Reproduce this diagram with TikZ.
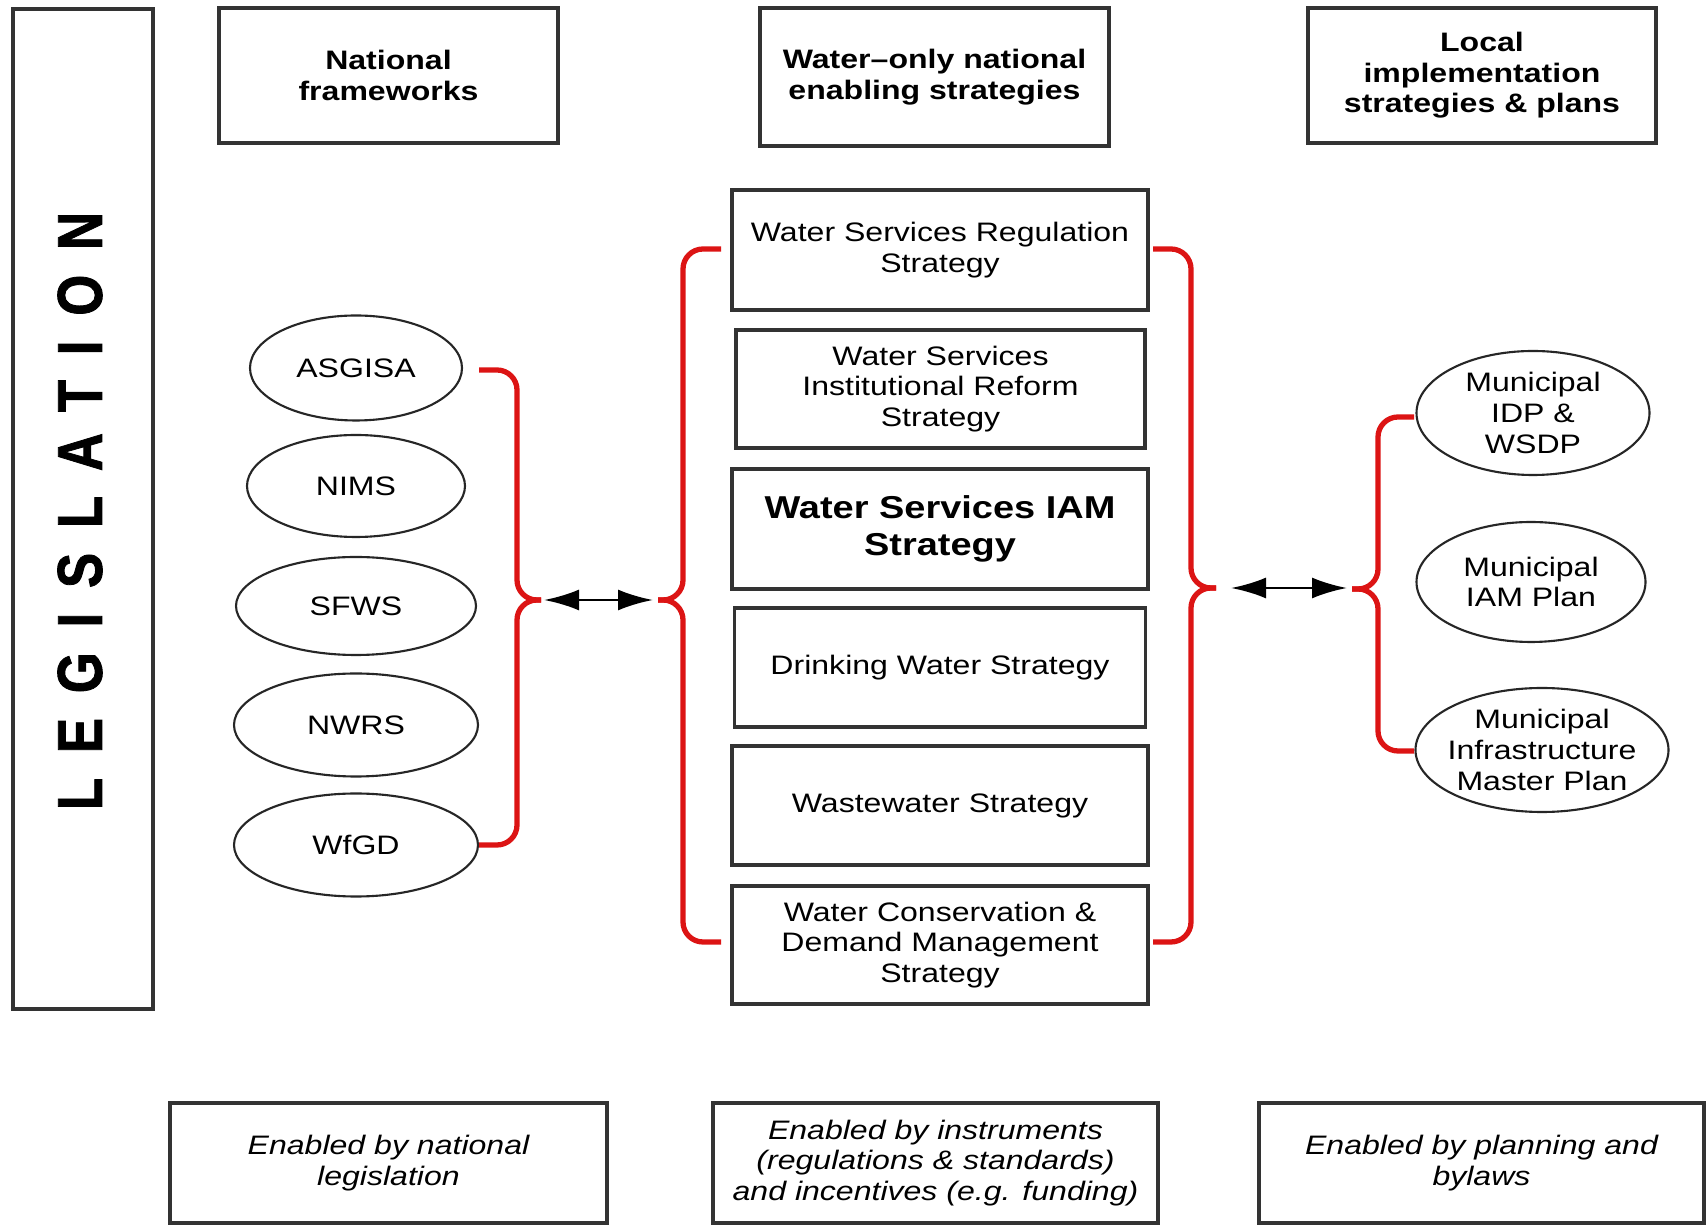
\documentclass[tikz,border=0pt]{standalone}
\usepackage{graphicx}
\usepackage{fontspec}
\setmainfont{Liberation Sans}[FakeStretch=1.2]
\newfontfamily\legfont{Liberation Sans}[LetterSpace=47, FakeBold=1.5]
\usetikzlibrary{shapes.geometric,arrows.meta}
\definecolor{bracered}{RGB}{220,20,20}

\begin{document}
\begin{tikzpicture}[
		plainbox/.style={draw=black!80, line width=0.9pt, rectangle, inner sep=0pt, align=center, font=\fontsize{7.6}{8.7}\selectfont},
		headbox/.style={plainbox, font=\fontsize{7.6}{8.7}\selectfont\bfseries},
		notebox/.style={plainbox, font=\fontsize{7.6}{8.7}\selectfont\itshape},
		oval/.style={draw=black!85, line width=0.6pt, ellipse, inner sep=0pt, align=center, font=\fontsize{7.6}{8.7}\selectfont},
		redbrace/.style={draw=bracered, line width=1.5pt, rounded corners=0.2cm},
		dblarrow/.style={line width=0.8pt, {Latex[length=3.5mm,width=2.1mm]}-{Latex[length=3.5mm,width=2.1mm]}}
	]
		\useasboundingbox [fill=white] (0,0) rectangle (17.06,-12.25);
		
		\node [plainbox, minimum width=1.40cm, minimum height=10.00cm] (leg) at (0.83,-5.09) {};
		\node [rotate=90, font=\legfont\bfseries\fontsize{15}{15}\selectfont] (legtext) at (0.80,-5.11) {\scalebox{1}[1.2]{LEGISLATION}};
		
		\node [headbox, minimum width=3.39cm, minimum height=1.35cm] (natfw) at (3.885,-0.755) {National\\frameworks};
		\node [headbox, minimum width=3.49cm, minimum height=1.38cm] (wateronly) at (9.345,-0.77) {Water–only national\\enabling strategies};
		\node [headbox, minimum width=3.48cm, minimum height=1.35cm] (localimp) at (14.82,-0.755) {Local\\implementation\\strategies \& plans};
		
		\node [oval, minimum width=2.12cm, minimum height=1.05cm] (asgisa) at (3.56,-3.68) {ASGISA};
		\node [oval, minimum width=2.18cm, minimum height=1.02cm] (nims) at (3.56,-4.86) {NIMS};
		\node [oval, minimum width=2.40cm, minimum height=0.98cm] (sfws) at (3.56,-6.06) {SFWS};
		\node [oval, minimum width=2.44cm, minimum height=1.03cm] (nwrs) at (3.56,-7.25) {NWRS};
		\node [oval, minimum width=2.44cm, minimum height=1.03cm] (wfgd) at (3.56,-8.45) {WfGD};
		
		\node [plainbox, minimum width=4.16cm, minimum height=1.20cm] (wsrs) at (9.40,-2.50) {Water Services Regulation\\Strategy};
		\node [plainbox, minimum width=4.09cm, minimum height=1.18cm] (wsirs) at (9.405,-3.89) {Water Services\\Institutional Reform\\Strategy};
		\node [plainbox, minimum width=4.16cm, minimum height=1.20cm, font=\fontsize{9}{10.5}\selectfont\bfseries] (wsiam) at (9.40,-5.29) {Water Services IAM\\Strategy};
		\node [plainbox, minimum width=4.11cm, minimum height=1.19cm] (dws) at (9.40,-6.675) {Drinking Water Strategy};
		\node [plainbox, minimum width=4.16cm, minimum height=1.19cm] (wws) at (9.40,-8.055) {Wastewater Strategy};
		\node [plainbox, minimum width=4.16cm, minimum height=1.18cm] (wcdm) at (9.40,-9.45) {Water Conservation \&\\Demand Management\\Strategy};
		
		\node [oval, minimum width=2.33cm, minimum height=1.24cm] (idp) at (15.33,-4.13) {Municipal\\IDP \&\\WSDP};
		\node [oval, minimum width=2.29cm, minimum height=1.20cm] (iamplan) at (15.31,-5.82) {Municipal\\IAM Plan};
		\node [oval, minimum width=2.53cm, minimum height=1.24cm, inner xsep=-2pt] (infra) at (15.42,-7.50) {Municipal\\Infrastructure\\Master Plan};
		
		\node [notebox, minimum width=4.37cm, minimum height=1.20cm] (bylegis) at (3.885,-11.63) {Enabled by national\\legislation};
		\node [notebox, minimum width=4.45cm, minimum height=1.20cm] (byinstr) at (9.355,-11.63) {Enabled by instruments\\(regulations \& standards)\\and incentives (e.g. funding)};
		\node [notebox, minimum width=4.45cm, minimum height=1.20cm] (byplan) at (14.815,-11.63) {Enabled by planning and\\bylaws};
		
		% braces: end x, spine x, tip x, top y, tip y, bottom y
		\foreach \xe/\xv/\xt/\yt/\ym/\yb in {4.79/5.17/5.41/-3.70/-6.00/-8.45, 7.21/6.83/6.58/-2.49/-6.00/-9.42, 11.53/11.91/12.16/-2.49/-5.88/-9.42, 14.14/13.78/13.52/-4.17/-5.89/-7.51}
		{
			\draw [redbrace] (\xe,\yt) -- (\xv,\yt) -- (\xv,\ym) -- (\xt,\ym);
			\draw [redbrace] (\xe,\yb) -- (\xv,\yb) -- (\xv,\ym) -- (\xt,\ym);
		}
		
		\coordinate (natlink) at (5.44,-6.00);
		\coordinate (strlink) at (6.53,-6.00);
		\coordinate (strout) at (12.31,-5.88);
		\coordinate (locin) at (13.47,-5.88);
		\draw [dblarrow] (natlink) -- (strlink);
		\draw [dblarrow] (strout) -- (locin);
	\end{tikzpicture}
\end{document}
